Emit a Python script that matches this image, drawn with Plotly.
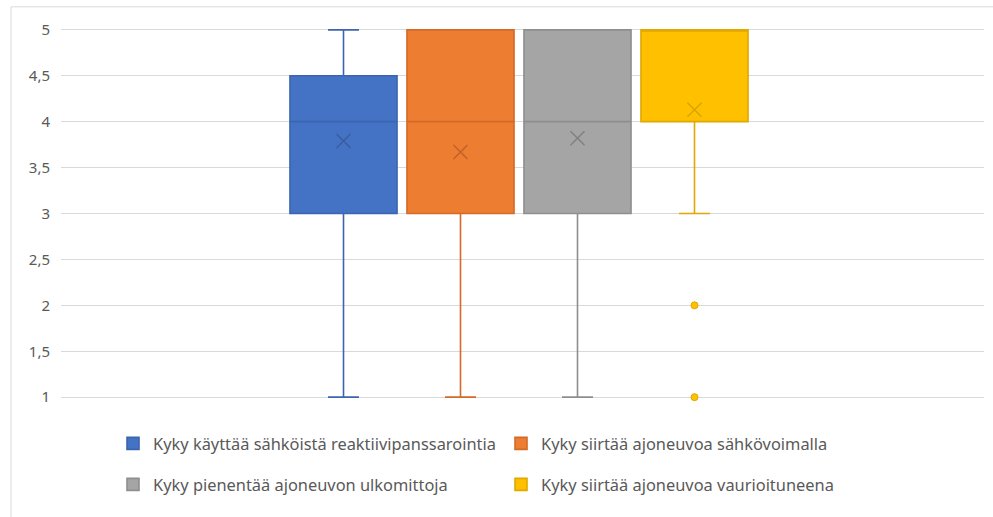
import plotly.graph_objects as go

# Box-plot statistics per series (Likert scale 1-5)
series_names = [
    "Kyky käyttää sähköistä reaktiivipanssarointia",
    "Kyky siirtää ajoneuvoa sähkövoimalla",
    "Kyky pienentää ajoneuvon ulkomittoja",
    "Kyky siirtää ajoneuvoa vaurioituneena",
]
q1_vals = [3, 3, 3, 4]
median_vals = [4, 4, 4, 5]
q3_vals = [4.5, 5, 5, 5]
lower_vals = [1, 1, 1, 3]
upper_vals = [5, 5, 5, 5]
mean_vals = [3.79, 3.67, 3.82, 4.13]
outliers = [[], [], [], [2, 1]]

fill_colors = ["#4472C4", "#ED7D31", "#A5A5A5", "#FFC000"]
line_colors = ["#3B65AF", "#D46A28", "#8E8E8E", "#E0A800"]
mean_colors = ["#3A5C9E", "#C0612A", "#7F7F7F", "#D9A300"]

y_ticks = [1, 1.5, 2, 2.5, 3, 3.5, 4, 4.5, 5]

W, H = 993, 517
plot_left, plot_right = 61, 984
y_top_px, y_bot_px = 30, 397          # pixel rows of y=5 and y=1
px_per_unit = (y_bot_px - y_top_px) / 4
pad = 0.02
m_t = y_top_px - pad * px_per_unit
m_b = H - (y_bot_px + pad * px_per_unit)
plot_h = H - m_t - m_b
plot_w = plot_right - plot_left

fig = go.Figure()

# legend placement: row 1 -> legend, row 2 -> legend2
legend_ids = ["legend", "legend", "legend2", "legend2"]

for i, name in enumerate(series_names):
    fig.add_trace(go.Box(
        name=name,
        x=[name],
        q1=[q1_vals[i]], median=[median_vals[i]], q3=[q3_vals[i]],
        lowerfence=[lower_vals[i]], upperfence=[upper_vals[i]],
        fillcolor=fill_colors[i],
        line=dict(color=line_colors[i], width=1.6),
        whiskerwidth=0.29,
        boxpoints=False,
        legend=legend_ids[i],
        hoverinfo="skip",
    ))

# mean markers
for i, name in enumerate(series_names):
    fig.add_trace(go.Scatter(
        x=[name], y=[mean_vals[i]], mode="markers",
        marker=dict(symbol="x-thin", size=14,
                    line=dict(color=mean_colors[i], width=1.4)),
        showlegend=False, hoverinfo="skip",
    ))

# outlier points
for i, name in enumerate(series_names):
    if outliers[i]:
        fig.add_trace(go.Scatter(
            x=[name] * len(outliers[i]), y=outliers[i], mode="markers",
            marker=dict(symbol="circle", size=7, color=fill_colors[i],
                        line=dict(color=line_colors[i], width=1)),
            showlegend=False, hoverinfo="skip", cliponaxis=False,
        ))

cat_px = 117.0
first_center_px = 343.5
x0 = -(first_center_px - plot_left) / cat_px
x1 = x0 + plot_w / cat_px

def py(px):
    return (H - m_b - px) / plot_h

def pxx(px):
    return (px - plot_left) / plot_w

legend_font = dict(family="Noto Sans", size=16.4, color="#595959")

fig.update_layout(
    width=W, height=H,
    margin=dict(l=plot_left, r=W - plot_right, t=m_t, b=m_b),
    paper_bgcolor="white", plot_bgcolor="white",
    separators=", ",
    boxmode="overlay",
    boxgap=0.085,
    boxgroupgap=0,
    xaxis=dict(range=[x0, x1], showticklabels=False, showgrid=False,
               zeroline=False, showline=False, ticks=""),
    yaxis=dict(range=[1 - pad, 5 + pad], tickvals=y_ticks,
               showgrid=True, gridcolor="#D9D9D9", gridwidth=1,
               zeroline=False, showline=False, ticks="",
               ticklabelstandoff=10,
               tickfont=dict(family="Noto Sans", size=15, color="#595959")),
    legend=dict(orientation="h", x=pxx(113), xanchor="left",
                y=py(443.5), yanchor="middle", font=legend_font,
                entrywidth=343, bgcolor="rgba(0,0,0,0)"),
    legend2=dict(orientation="h", x=pxx(113), xanchor="left",
                 y=py(484.5), yanchor="middle", font=legend_font,
                 entrywidth=343, bgcolor="rgba(0,0,0,0)"),
    showlegend=True,
)

# chart-area frame
fig.add_shape(type="rect", xref="paper", yref="paper",
              x0=pxx(11), x1=pxx(1000), y0=py(530), y1=py(7),
              line=dict(color="#D9D9D9", width=1), fillcolor="rgba(0,0,0,0)",
              layer="below")

fig.write_html("out.html")
